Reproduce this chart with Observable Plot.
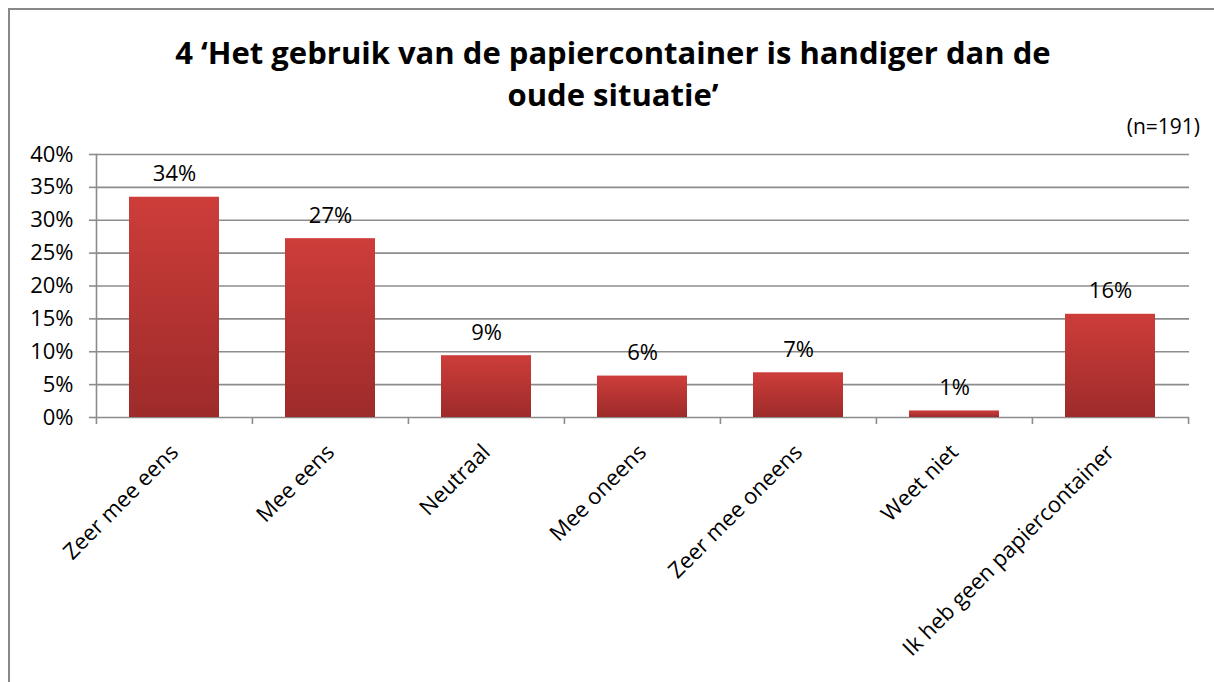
<!DOCTYPE html>
<html><head><meta charset="utf-8">
<script src="https://cdn.jsdelivr.net/npm/d3@7"></script>
<script src="https://cdn.jsdelivr.net/npm/@observablehq/plot@0.6"></script>
<style>
html,body{margin:0;padding:0;background:#fff;overflow:hidden;}
#frame{position:absolute;left:8px;top:8px;width:1300px;height:800px;border:2px solid #888;box-sizing:border-box;}
#title{position:absolute;left:0;width:1226px;top:31px;text-align:center;font:bold 31px "Open Sans", sans-serif;line-height:42px;color:#000;}
#n{position:absolute;right:14px;top:112px;font:21px "Open Sans", sans-serif;color:#000;}
#chart{position:absolute;left:0;top:140px;}
</style>
</head><body>
<div id="frame"></div>
<div id="title">4 ‘Het gebruik van de papiercontainer is handiger dan de<br>oude situatie’</div>
<div id="n">(n=191)</div>
<div id="chart"></div>
<script>
const categories = ["Zeer mee eens","Mee eens","Neutraal","Mee oneens","Zeer mee oneens","Weet niet","Ik heb geen papiercontainer"];
const percentages = [0.335, 0.272, 0.094, 0.063, 0.068, 0.010, 0.157];
const valueLabels = ["34%","27%","9%","6%","7%","1%","16%"];
const yTicks = [0, 0.05, 0.10, 0.15, 0.20, 0.25, 0.30, 0.35, 0.40];

const W = 1214, H = 542, mL = 96, mR = 25, mT = 14, mB = 265;
const step = (W - mL - mR) / categories.length;
const data = categories.map((c, i) => ({cat: c, value: percentages[i], label: valueLabels[i]}));

const plot = Plot.plot({
  width: W, height: H,
  marginLeft: mL, marginRight: mR, marginTop: mT, marginBottom: mB,
  style: {fontFamily: "'Open Sans', sans-serif", fontSize: "22px", color: "#000", background: "transparent", overflow: "visible"},
  x: {domain: categories, paddingInner: 0.42, paddingOuter: 0.21, label: null},
  y: {domain: [0, 0.4], label: null},
  marks: [
    Plot.ruleY(yTicks, {stroke: "#8c8c8c", strokeWidth: 1.6}),
    Plot.frame({anchor: "left", stroke: "#8c8c8c", strokeWidth: 1.6}),
    Plot.axisY({ticks: yTicks, tickFormat: d => Math.round(d * 100) + "%", tickSize: 7, tickPadding: 16, stroke: "#8c8c8c", strokeWidth: 1.6, fontSize: 22, fill: "#000", label: null}),
    Plot.axisX({ticks: categories, tickFormat: () => "", tickSize: 7, dx: -step / 2, stroke: "#8c8c8c", strokeWidth: 1.6, label: null}),
    Plot.axisX({ticks: categories.slice(-1), tickFormat: () => "", tickSize: 7, dx: step / 2, stroke: "#8c8c8c", strokeWidth: 1.6, label: null}),
    Plot.barY(data, {x: "cat", y: "value", fill: "url(#barGrad)"}),
    Plot.axisX({tickSize: 0, tickRotate: -45, textAnchor: "end", lineAnchor: "top", tickPadding: 25, dx: -6, fontSize: 22, fill: "#000", label: null}),
    Plot.text(data, {x: "cat", y: "value", text: "label", dy: -16, lineAnchor: "bottom", fontSize: 22, fill: "#000"})
  ]
});

const defs = d3.select(plot).insert("defs", ":first-child");
const g = defs.append("linearGradient").attr("id", "barGrad").attr("x1", 0).attr("y1", 0).attr("x2", 0).attr("y2", 1);
g.append("stop").attr("offset", "0%").attr("stop-color", "#cd3d3a");
g.append("stop").attr("offset", "100%").attr("stop-color", "#9d2b2a");

document.getElementById("chart").appendChild(plot);
</script>
</body></html>
